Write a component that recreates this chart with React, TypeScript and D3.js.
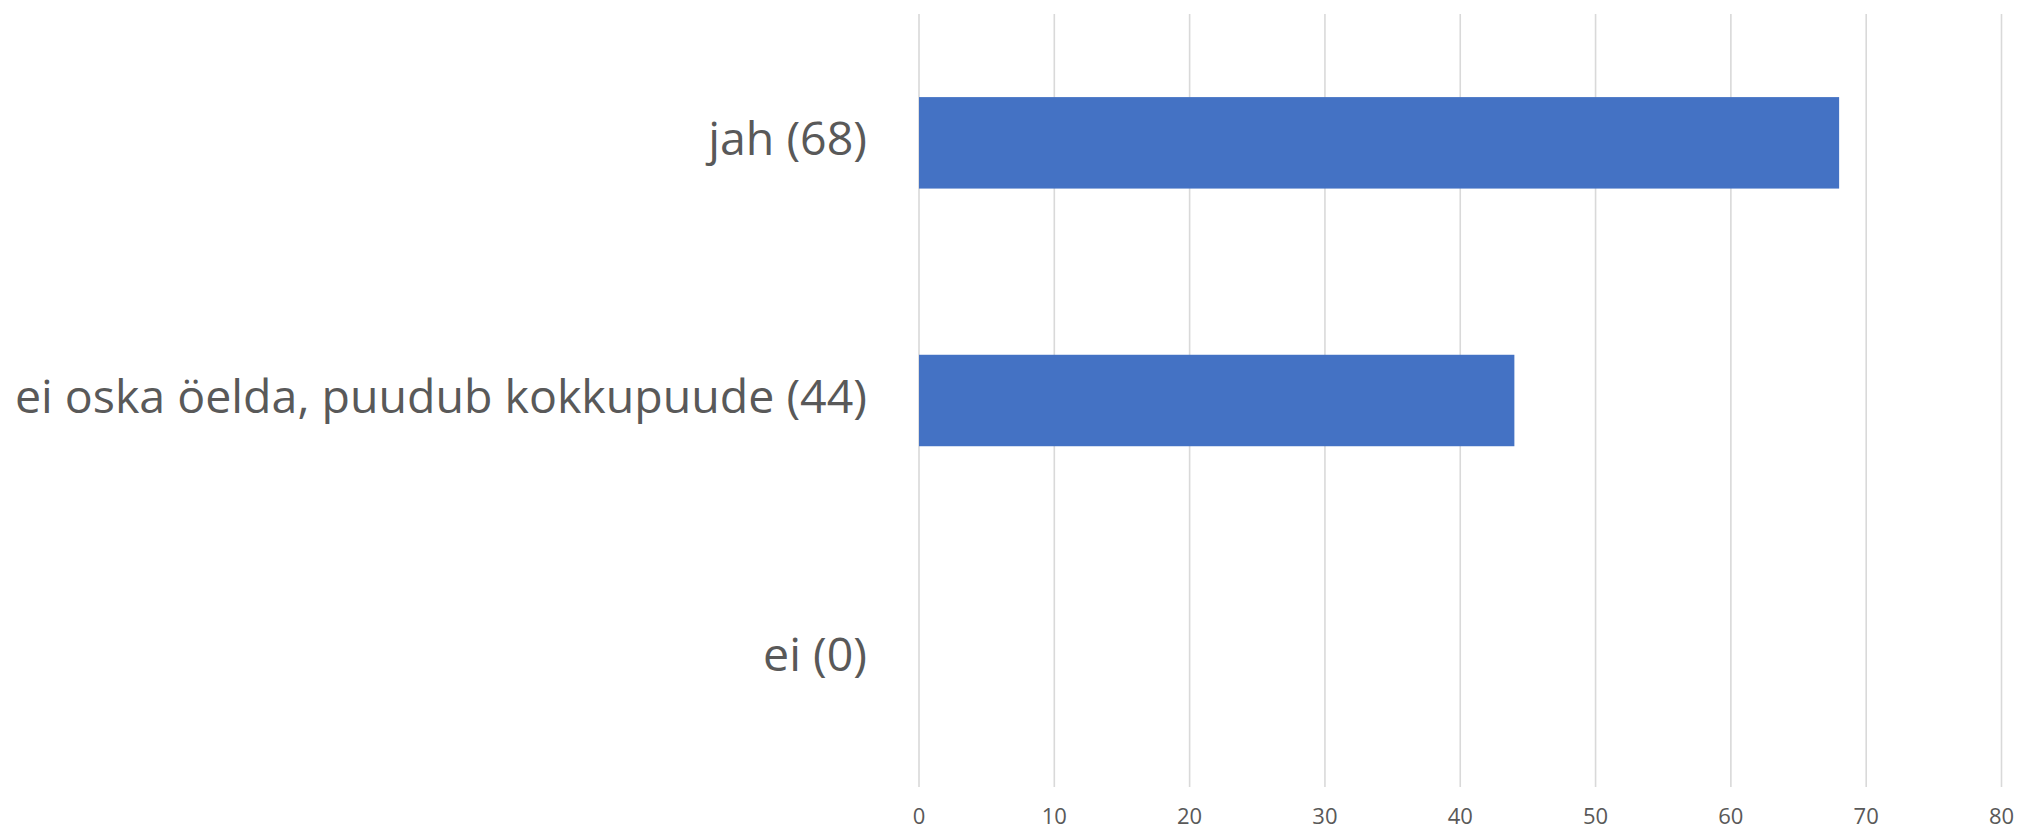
import React, { useEffect, useRef } from "react";
import * as d3 from "d3";

const categories = ["jah (68)", "ei oska öelda, puudub kokkupuude (44)", "ei (0)"];
const values = [68, 44, 0];
const xTicks = [0, 10, 20, 30, 40, 50, 60, 70, 80];

const W = 2018;
const H = 830;

export default function App() {
  const ref = useRef<SVGSVGElement | null>(null);

  useEffect(() => {
    const svg = d3.select(ref.current);
    svg.selectAll("*").remove();

    const left = 919;
    const right = 2001.5;
    const top = 14;
    const bottom = 787;

    const x = d3.scaleLinear().domain([0, 80]).range([left, right]);
    const y = d3
      .scaleBand<string>()
      .domain(categories)
      .range([top, bottom])
      .paddingInner(0.645)
      .paddingOuter(0.3225);

    const grid = svg.append("g");
    grid
      .selectAll("line")
      .data(xTicks)
      .join("line")
      .attr("x1", (d) => x(d))
      .attr("x2", (d) => x(d))
      .attr("y1", top)
      .attr("y2", bottom)
      .attr("stroke", "#D9D9D9")
      .attr("stroke-width", 1.6);

    svg
      .append("g")
      .selectAll("rect")
      .data(categories)
      .join("rect")
      .attr("x", x(0))
      .attr("y", (d) => y(d)!)
      .attr("width", (d, i) => x(values[i]) - x(0))
      .attr("height", y.bandwidth())
      .attr("fill", "#4472C4");

    svg
      .append("g")
      .selectAll("text")
      .data(xTicks)
      .join("text")
      .attr("x", (d) => x(d))
      .attr("y", 818)
      .attr("text-anchor", "middle")
      .attr("dominant-baseline", "middle")
      .attr("font-family", "'Open Sans', sans-serif")
      .attr("font-size", 22)
      .attr("fill", "#595959")
      .text((d) => String(d));

    svg
      .append("g")
      .selectAll("text")
      .data(categories)
      .join("text")
      .attr("x", 867)
      .attr("y", (d) => y(d)! + y.bandwidth() / 2)
      .attr("text-anchor", "end")
      .attr("dominant-baseline", "middle")
      .attr("font-family", "'Open Sans', sans-serif")
      .attr("font-size", 46.5)
      .attr("fill", "#595959")
      .text((d) => d);
  }, []);

  return (
    <svg
      ref={ref}
      width={W}
      height={H}
      style={{ position: "absolute", left: 0, top: 0, background: "#fff" }}
    />
  );
}
